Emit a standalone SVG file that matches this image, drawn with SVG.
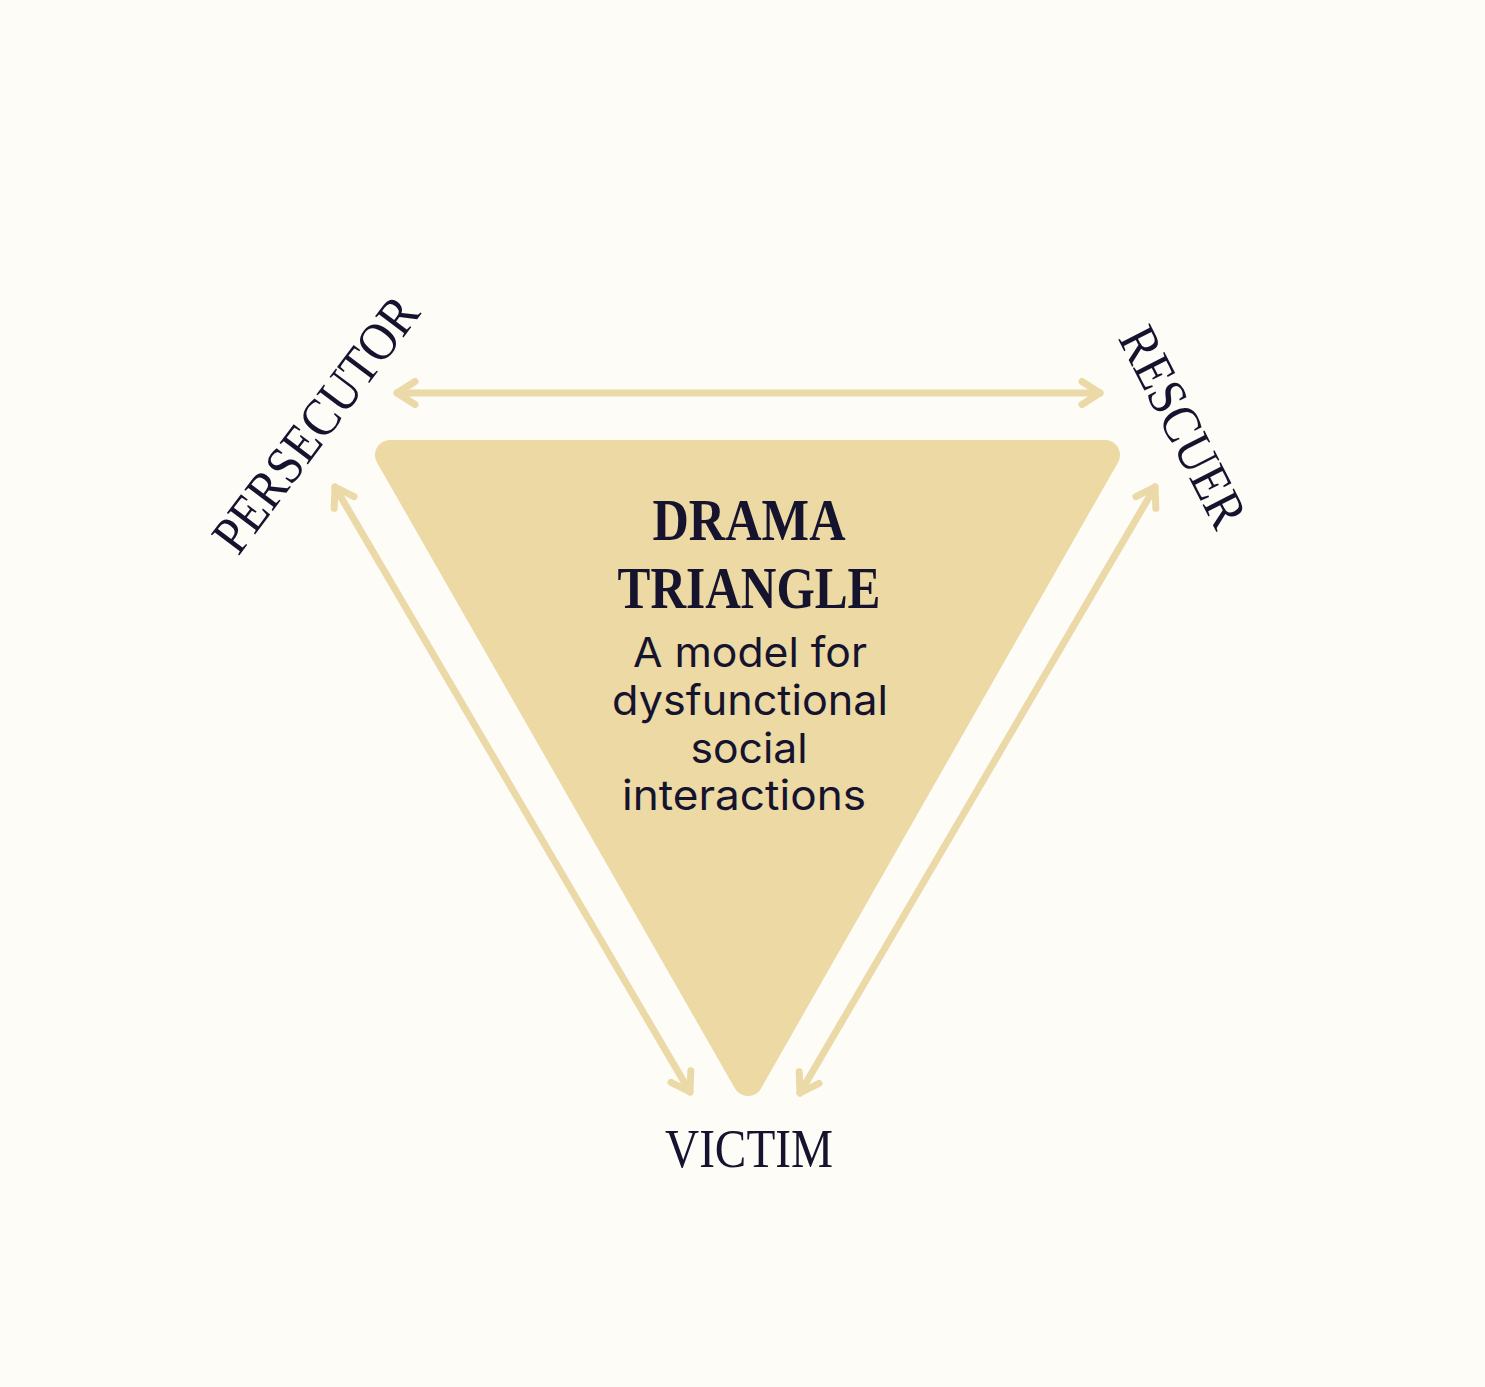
<svg xmlns="http://www.w3.org/2000/svg" width="1485" height="1387" viewBox="0 0 1485 1387">
<style>
.bg{fill:#FDFCF7}
.tri{fill:#ECD9A3;stroke:#ECD9A3;stroke-width:30;stroke-linejoin:round}
.arr{fill:none;stroke:#EBDAA8;stroke-width:7;stroke-linecap:round}
.ah{fill:none;stroke:#EBDAA8;stroke-width:7;stroke-linecap:round;stroke-linejoin:round}
.lbl{font-family:"Liberation Serif","Times New Roman",serif;font-size:54px;fill:#15132E;text-anchor:middle}
.ttl{font-family:"Liberation Serif","Times New Roman",serif;font-size:60px;font-weight:bold;fill:#15132E;text-anchor:middle}
.sub{font-family:Inter,"Liberation Sans",sans-serif;font-size:41px;fill:#15132E;text-anchor:middle}
</style>
<defs>
<marker id="ah" viewBox="-25 -20 30 40" refX="0" refY="0" markerWidth="30" markerHeight="40" markerUnits="userSpaceOnUse" orient="auto-start-reverse" overflow="visible">
<path class="ah" d="M-18,-11.5 L0,0 L-18,11.5"/>
</marker>
</defs>
<rect class="bg" x="0" y="0" width="1485" height="1387"/>
<g id="triangle">
<polygon class="tri" points="390,455 1105,455 748,1081"/>
<text class="ttl" x="749" y="540" textLength="193" lengthAdjust="spacingAndGlyphs">DRAMA</text>
<text class="ttl" x="749" y="608" textLength="263" lengthAdjust="spacingAndGlyphs">TRIANGLE</text>
<text class="sub" x="750" y="667" textLength="234" lengthAdjust="spacingAndGlyphs">A model for</text>
<text class="sub" x="750" y="715" textLength="276" lengthAdjust="spacingAndGlyphs">dysfunctional</text>
<text class="sub" x="749" y="763" textLength="117" lengthAdjust="spacingAndGlyphs">social</text>
<text class="sub" x="744" y="810" textLength="244" lengthAdjust="spacingAndGlyphs">interactions</text>
</g>
<g id="persecutor">
<text class="lbl" transform="translate(330,435) rotate(-53)" x="0" y="0" textLength="305" lengthAdjust="spacingAndGlyphs">PERSECUTOR</text>
</g>
<g id="rescuer">
<text class="lbl" transform="translate(1167,435) rotate(63)" x="0" y="0" textLength="218" lengthAdjust="spacingAndGlyphs">RESCUER</text>
</g>
<g id="victim">
<text class="lbl" x="749" y="1167" textLength="168" lengthAdjust="spacingAndGlyphs">VICTIM</text>
</g>
<g id="connectors">
<line class="arr" x1="397" y1="393" x2="1100" y2="393" marker-start="url(#ah)" marker-end="url(#ah)"/>
<line class="arr" x1="335" y1="487" x2="690" y2="1092" marker-start="url(#ah)" marker-end="url(#ah)"/>
<line class="arr" x1="1155" y1="487" x2="800" y2="1093" marker-start="url(#ah)" marker-end="url(#ah)"/>
</g>
</svg>
